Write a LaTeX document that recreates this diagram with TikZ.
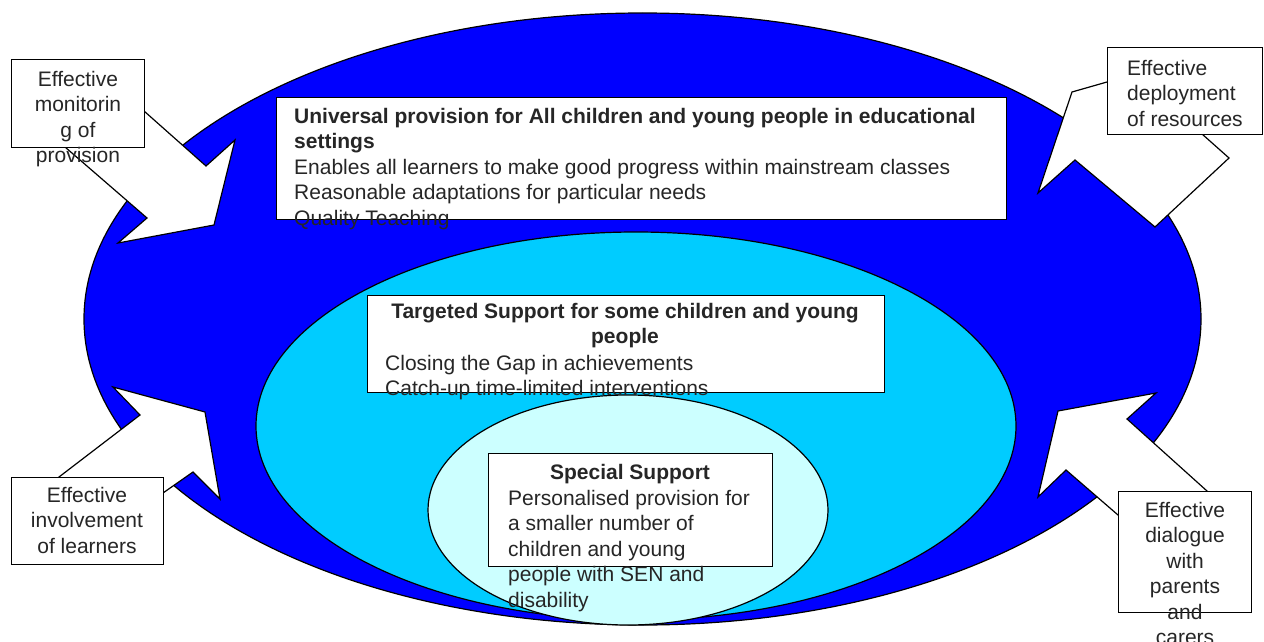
\documentclass[tikz,border=0pt]{standalone}
\usepackage{fontspec}
\setmainfont{Liberation Sans}
\usetikzlibrary{shapes.geometric}
\definecolor{outerblue}{HTML}{0000FF}
\definecolor{midcyan}{HTML}{00CCFF}
\definecolor{innercyan}{HTML}{CCFFFF}
\definecolor{txt}{HTML}{262626}
\begin{document}
\begin{tikzpicture}[x=1pt,y=-1pt,
  ring/.style={ellipse, draw=black, line width=1.2pt, inner sep=0pt},
  panel/.style={draw=black, fill=white, line width=1.2pt, inner sep=0pt, anchor=north west},
  txtstyle/.style={inner sep=0pt, text=txt, font=\fontsize{21}{25.5}\selectfont},
  boldtxt/.style={inner sep=0pt, text=txt, font=\fontsize{21}{25.5}\selectfont\bfseries},
  callout/.style={draw=black, fill=white, line width=1.2pt, line join=miter}]
\useasboundingbox (0,0) rectangle (1264,642);
\fill[white] (0,0) rectangle (1264,642);

% rings
\node[ring, fill=outerblue, minimum width=1117pt, minimum height=612pt] (outer) at (642.5,319) {};
\node[ring, fill=midcyan, minimum width=760pt, minimum height=388pt] (middle) at (636,426) {};
\node[ring, fill=innercyan, minimum width=400pt, minimum height=230pt] (inner) at (628,510) {};

% main panels
\node[panel, minimum width=730pt, minimum height=122pt] (univ) at (276,97) {};
\node[panel, minimum width=517pt, minimum height=97pt] (targ) at (367,295) {};
\node[panel, minimum width=284pt, minimum height=113pt] (spec) at (488,453) {};

% main texts
\node[txtstyle, anchor=north west, align=left] (univtxt) at (294,108)
  {\textbf{Universal provision for All children and young people in educational}\\
   \textbf{settings}\\
   Enables all learners to make good progress within mainstream classes\\
   Reasonable adaptations for particular needs\\
   Quality Teaching};
\node[boldtxt, anchor=north, align=center] (targtitle) at (625,303)
  {Targeted Support for some children and young\\people};
\node[txtstyle, anchor=north west, align=left] (targtxt) at (385,355)
  {Closing the Gap in achievements\\Catch-up time-limited interventions};
\node[boldtxt, anchor=north, align=center] (spectitle) at (630,464) {Special Support};
\node[txtstyle, anchor=north west, align=left] (spectxt) at (508,490)
  {Personalised provision for\\a smaller number of\\children and young\\people with SEN and\\disability};

% callout arrows
\draw[callout] (144,111) -- (206,166) -- (235,140) -- (214,225) -- (118,243) -- (147,218) -- (65,147) -- (65,111) -- cycle;
\draw[callout] (1107,82) -- (1072,92) -- (1038,193) -- (1075,160) -- (1155,227) -- (1229,158) -- (1202,134) -- (1202,82) -- cycle;
\draw[callout] (59,477) -- (140,415) -- (113,387) -- (205,412) -- (220,499) -- (193,472) -- (163,493) -- (59,493) -- cycle;
\draw[callout] (1207,491) -- (1127,419) -- (1156,393) -- (1058,411) -- (1038,497) -- (1066,470) -- (1118,515) -- (1207,515) -- cycle;

% callout boxes
\node[panel, minimum width=133pt, minimum height=88pt] (monbox) at (11,59) {};
\node[panel, minimum width=155pt, minimum height=87pt] (depbox) at (1107,47) {};
\node[panel, minimum width=152pt, minimum height=87pt] (invbox) at (11,477) {};
\node[panel, minimum width=133pt, minimum height=121pt] (dialbox) at (1118,491) {};

\node[txtstyle, anchor=north, align=center] (montxt) at (78,71) {Effective\\monitorin\\g of\\provision};
\node[txtstyle, anchor=north west, align=left] (deptxt) at (1127,60) {Effective\\deployment\\of resources};
\node[txtstyle, anchor=north, align=center] (invtxt) at (87,487) {Effective\\involvement\\of learners};
\node[txtstyle, anchor=north, align=center] (dialtxt) at (1185,502) {Effective\\dialogue\\with\\parents\\and\\carers};
\end{tikzpicture}
\end{document}
